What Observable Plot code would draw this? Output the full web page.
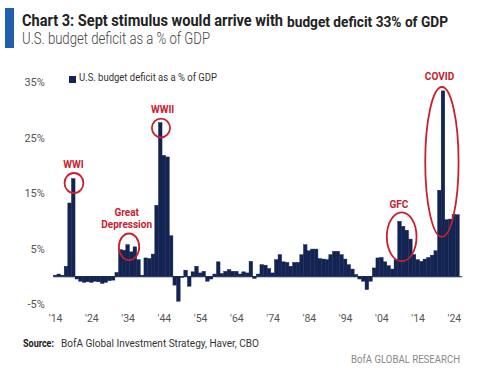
<!DOCTYPE html>
<html><head><meta charset="utf-8">
<script src="https://cdn.jsdelivr.net/npm/d3@7"></script>
<script src="https://cdn.jsdelivr.net/npm/@observablehq/plot@0.6"></script>
<style>
body{margin:0;background:#fff;}
#wrap{position:relative;width:500px;height:374px;overflow:hidden;font-family:Roboto,"Noto Sans",sans-serif;color:#222;}
#chart{position:absolute;left:0;top:0;}
.accent{position:absolute;left:5px;top:8px;width:9px;height:40px;background:#1f5fad;}
.fit{position:absolute;white-space:nowrap;line-height:1;transform-origin:0 0;}
.t1{left:22px;top:13px;font-size:16px;font-weight:bold;color:#222;}
.t2{left:287px;top:14.7px;font-size:14px;font-weight:bold;color:#222;}
.sub{left:22px;top:30.5px;font-size:16px;color:#444;font-weight:300;}
.legsq{position:absolute;left:69px;top:76px;width:7px;height:7px;background:#132452;}
.legend{left:79px;top:73.2px;font-size:10.5px;color:#333;}
.srcb{left:23px;top:337.7px;font-size:11px;color:#222;font-weight:bold;}
.src{left:61px;top:337.7px;font-size:11px;color:#333;}
.brand{left:351px;top:353.7px;font-size:11px;color:#888;}
</style></head><body>
<div id="wrap">
<div id="chart"></div>
<div class="accent"></div>
<div class="fit t1" data-w="261">Chart 3: Sept stimulus would arrive with</div>
<div class="fit t2" data-w="161">budget deficit 33% of GDP</div>
<div class="fit sub" data-w="188">U.S. budget deficit as a % of GDP</div>
<div class="legsq"></div>
<div class="fit legend" data-w="138">U.S. budget deficit as a % of GDP</div>
<div class="fit srcb" data-w="31">Source:</div>
<div class="fit src" data-w="198">BofA Global Investment Strategy, Haver, CBO</div>
<div class="fit brand" data-w="109">BofA GLOBAL RESEARCH</div>
</div>
<script>
const firstYear = 1914;
const deficitPct = [
  // 1914-1923
  0.2, 0.4, 0.2, 1.8, 13.2, 17.6, -0.5, -0.9, -1.1, -1.0,
  // 1924-1933
  -1.1, -0.9, -1.0, -1.3, -1.1, -0.8, -0.7, 0.7, 4.8, 4.7,
  // 1934-1943
  5.7, 4.4, 5.3, 3.0, 0.2, 3.3, 3.2, 4.0, 12.8, 27.7,
  // 1944-1953
  21.8, 21.5, 7.3, -1.6, -4.5, -0.2, 1.1, -1.8, 0.8, 1.8,
  // 1954-1963
  0.6, 0.9, -0.9, -0.5, 0.4, 2.6, 0.5, 0.9, 1.2, 0.9,
  // 1964-1973
  0.9, 0.4, 0.8, 0.6, 2.7, -0.4, 0.4, 2.1, 2.0, 1.4,
  // 1974-1983
  0.6, 3.0, 3.9, 2.6, 2.5, 1.8, 2.5, 2.5, 3.9, 5.7,
  // 1984-1993
  4.6, 4.9, 4.9, 3.2, 3.1, 3.0, 3.9, 4.5, 4.5, 3.9,
  // 1994-2003
  3.1, 2.1, 1.3, 0.3, -0.5, -0.9, -2.4, -0.9, 1.5, 3.3,
  // 2004-2013
  3.4, 2.6, 1.9, 1.3, 3.0, 9.9, 9.0, 8.3, 6.7, 3.9,
  // 2014-2025
  3.0, 2.7, 3.1, 3.4, 3.8, 4.6, 15.5, 33.4, 10.2, 10.3, 11.1, 11.1
];
const yTicks = [35, 25, 15, 5, -5];
const xTicks = [1914, 1924, 1934, 1944, 1954, 1964, 1974, 1984, 1994, 2004, 2014, 2024];
const labelText = ["WWI", "WWII", "Great", "Depression", "GFC", "COVID"];
const labelYear = [1918.9, 1943.5, 1933.6, 1933.6, 2008.7, 2019.9];
const labelValue = [20.2, 30.1, 11.6, 9.4, 13.0, 36.1];
const ringYear = [1919.2, 1943.2, 1934.4, 2009.6, 2020.7];
const ringValue = [16.8, 26.7, 5.3, 7.1, 20.6];
const ringRadiusYears = [2.6, 2.5, 2.8, 4.1, 4.6];
const ringRadiusPct = [1.8, 1.7, 2.4, 4.4, 13.5];

const navy = "#132452";
const red = "#c8202d";
const font = 'Roboto,"Noto Sans",sans-serif';

const data = deficitPct.map((v, i) => ({year: firstYear + i, value: v}));
const labels = labelText.map((t, i) => ({text: t, year: labelYear[i], value: labelValue[i]}));
const rings = ringYear.map((y, i) => ({year: y, value: ringValue[i], rx: ringRadiusYears[i], ry: ringRadiusPct[i]}));

const plot = Plot.plot({
  width: 500,
  height: 374,
  marginLeft: 53.3,
  marginRight: 40.7,
  marginTop: 82,
  marginBottom: 70,
  style: {fontFamily: font, background: "transparent", overflow: "visible"},
  x: {domain: [firstYear - 0.5, firstYear + deficitPct.length - 0.5], axis: null},
  y: {domain: [-5, 35], axis: null},
  marks: [
    Plot.rect(data, {x1: d => d.year - 0.5, x2: d => d.year + 0.5, y1: 0, y2: "value", fill: navy, stroke: navy, strokeWidth: 0.4}),
    Plot.ruleY([0], {stroke: navy, strokeWidth: 1.2, x1: firstYear - 0.5, x2: firstYear + deficitPct.length + 0.3}),
    Plot.axisY({ticks: yTicks, tickSize: 0, tickPadding: 9, tickFormat: d => d + "%", label: null, fill: "#555", fontSize: 11}),
    Plot.axisX({ticks: xTicks, tickSize: 0, tickPadding: 10, tickFormat: d => "'" + String(d).slice(2), label: null, fill: "#555", fontSize: 10.5}),
    Plot.text(labels, {x: "year", y: "value", text: "text", fill: red, fontWeight: "bold", fontSize: 10, textAnchor: "middle", lineAnchor: "middle"})
  ]
});
document.getElementById("chart").appendChild(plot);

const sx = plot.scale("x"), sy = plot.scale("y");
d3.select(plot).append("g").selectAll("ellipse").data(rings).join("ellipse")
  .attr("cx", d => sx.apply(d.year))
  .attr("cy", d => sy.apply(d.value))
  .attr("rx", d => Math.abs(sx.apply(d.year + d.rx) - sx.apply(d.year)))
  .attr("ry", d => Math.abs(sy.apply(d.value + d.ry) - sy.apply(d.value)))
  .attr("fill", "none").attr("stroke", red).attr("stroke-width", 1.8);

document.querySelectorAll(".fit").forEach(el => {
  const w = +el.dataset.w;
  const cur = el.getBoundingClientRect().width;
  if (cur > 0) el.style.transform = `scaleX(${w / cur})`;
});
</script>
</body></html>
